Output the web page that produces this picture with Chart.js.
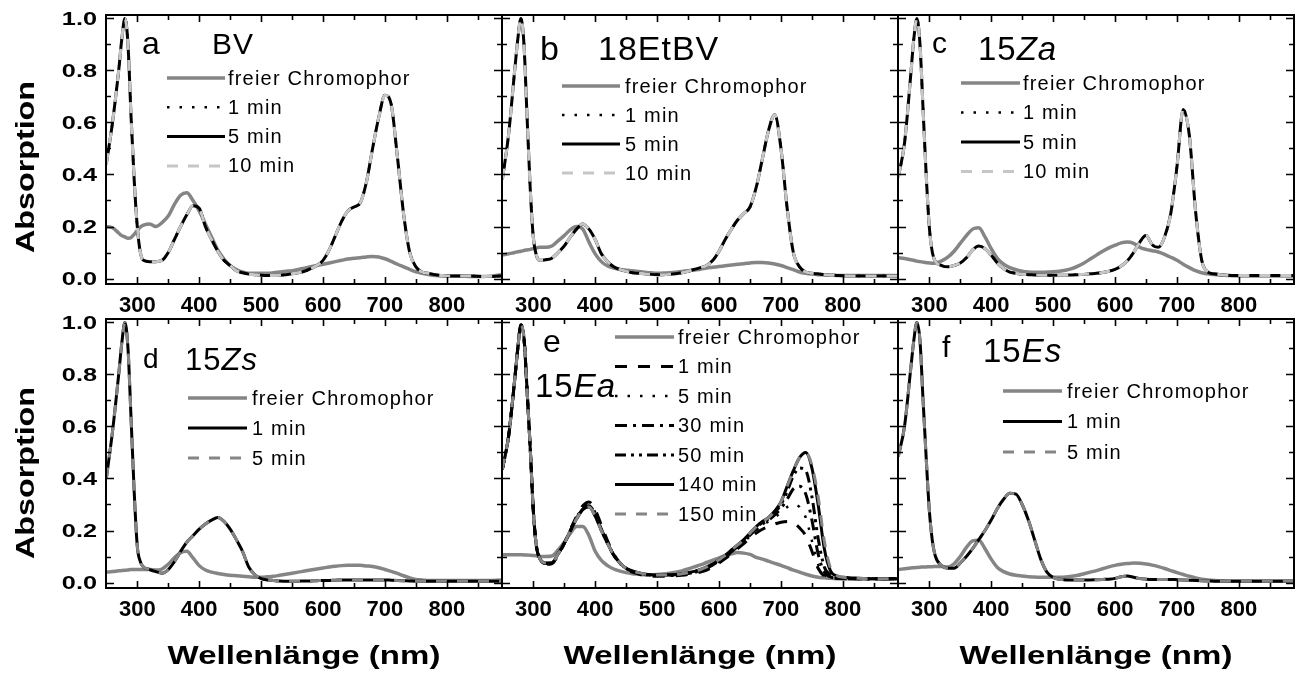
<!DOCTYPE html>
<html lang="de">
<head>
  <meta charset="UTF-8">
  <title>Absorptionsspektren</title>
  <script src="https://cdn.jsdelivr.net/npm/chart.js"></script>
  <style>
    body { margin: 0; background: #fff; width: 1297px; height: 679px; overflow: hidden; position: relative; }
    canvas { position: absolute; left: 0; top: 0; }
  </style>
</head>
<body>
  <canvas id="pa" width="1297" height="679"></canvas>
  <canvas id="pb" width="1297" height="679"></canvas>
  <canvas id="pc" width="1297" height="679"></canvas>
  <canvas id="pd" width="1297" height="679"></canvas>
  <canvas id="pe" width="1297" height="679"></canvas>
  <canvas id="pf" width="1297" height="679"></canvas>

  <script>
    // Wellenlaenge (nm), gemeinsames Raster fuer alle Spektren
    const wl = [250, 260, 270, 275, 280, 285, 290, 295, 300, 305, 310,
      320, 330, 340, 350, 360, 370, 380, 390, 400, 410,
      420, 430, 440, 450, 460, 470, 480, 490, 500, 510,
      520, 530, 540, 550, 560, 570, 580, 590, 600, 610,
      620, 630, 640, 650, 660, 670, 680, 690, 700, 710,
      720, 730, 740, 750, 760, 770, 780, 790, 800,
      820, 840, 860, 890];

    const xMinor = [350, 450, 550, 650, 750, 850];
    const yMinor = [0.1, 0.3, 0.5, 0.7, 0.9];

    const labelsABC = ['freier Chromophor', '1 min', '5 min', '10 min'];
    const labelsDF = ['freier Chromophor', '1 min', '5 min'];
    const labelsE = ['freier Chromophor', '1 min', '5 min', '30 min', '50 min', '140 min', '150 min'];

    // a: BV
    const aFree = [0.200, 0.195, 0.175, 0.165, 0.160, 0.155, 0.158, 0.170, 0.185, 0.198, 0.205,
      0.210, 0.200, 0.215, 0.240, 0.285, 0.320, 0.330, 0.300, 0.260, 0.210,
      0.160, 0.110, 0.075, 0.050, 0.035, 0.025, 0.020, 0.020, 0.020, 0.020,
      0.022, 0.025, 0.028, 0.030, 0.035, 0.040, 0.045, 0.050, 0.055, 0.060,
      0.065, 0.070, 0.075, 0.078, 0.080, 0.083, 0.085, 0.083, 0.076, 0.066,
      0.055, 0.045, 0.035, 0.026, 0.020, 0.015, 0.012, 0.010, 0.010,
      0.010, 0.008, 0.008, 0.015];
    const aBound = [0.44, 0.60, 0.80, 0.92, 1.00, 0.90, 0.62, 0.38, 0.20, 0.10, 0.07,
      0.065, 0.065, 0.07, 0.10, 0.15, 0.20, 0.245, 0.28, 0.27, 0.20,
      0.15, 0.105, 0.07, 0.05, 0.03, 0.022, 0.017, 0.015, 0.013, 0.012,
      0.012, 0.013, 0.015, 0.018, 0.022, 0.028, 0.038, 0.05, 0.07, 0.11,
      0.165, 0.22, 0.26, 0.275, 0.29, 0.37, 0.50, 0.62, 0.705, 0.67,
      0.47, 0.25, 0.10, 0.045, 0.025, 0.02, 0.015, 0.012, 0.01,
      0.01, 0.01, 0.008, 0.01];

    // b: 18EtBV
    const bFree = [0.090, 0.095, 0.100, 0.103, 0.105, 0.108, 0.110, 0.112, 0.115, 0.118, 0.120,
      0.120, 0.125, 0.145, 0.165, 0.188, 0.200, 0.190, 0.140, 0.095, 0.065,
      0.048, 0.040, 0.035, 0.032, 0.030, 0.027, 0.024, 0.022, 0.020, 0.021,
      0.022, 0.024, 0.027, 0.030, 0.033, 0.036, 0.040, 0.043, 0.046, 0.049,
      0.052, 0.055, 0.057, 0.060, 0.062, 0.062, 0.060, 0.056, 0.050, 0.042,
      0.034, 0.025, 0.020, 0.017, 0.015, 0.014, 0.013, 0.012, 0.012,
      0.012, 0.012, 0.012, 0.012];
    const bBound = [0.38, 0.55, 0.80, 0.92, 1.00, 0.90, 0.62, 0.35, 0.16, 0.09, 0.07,
      0.072, 0.078, 0.10, 0.125, 0.16, 0.19, 0.21, 0.19, 0.15, 0.095,
      0.065, 0.045, 0.035, 0.028, 0.022, 0.02, 0.018, 0.016, 0.015, 0.015,
      0.016, 0.018, 0.022, 0.028, 0.035, 0.042, 0.05, 0.07, 0.105, 0.15,
      0.19, 0.225, 0.25, 0.275, 0.35, 0.46, 0.57, 0.63, 0.50, 0.27,
      0.10, 0.045, 0.025, 0.02, 0.018, 0.015, 0.013, 0.012, 0.011,
      0.01, 0.01, 0.01, 0.01];

    // c: 15Za
    const cFree = [0.080, 0.077, 0.072, 0.070, 0.067, 0.065, 0.063, 0.061, 0.060, 0.059, 0.060,
      0.068, 0.082, 0.105, 0.135, 0.165, 0.190, 0.195, 0.160, 0.115, 0.078,
      0.055, 0.042, 0.034, 0.028, 0.025, 0.024, 0.024, 0.025, 0.026, 0.028,
      0.032, 0.038, 0.048, 0.060, 0.075, 0.090, 0.105, 0.118, 0.128, 0.137,
      0.140, 0.135, 0.120, 0.112, 0.107, 0.102, 0.093, 0.082, 0.070, 0.055,
      0.042, 0.030, 0.022, 0.018, 0.015, 0.013, 0.012, 0.011, 0.010,
      0.010, 0.010, 0.010, 0.010];
    const cBound = [0.39, 0.52, 0.78, 0.92, 1.00, 0.90, 0.65, 0.40, 0.20, 0.10, 0.065,
      0.05, 0.045, 0.05, 0.06, 0.08, 0.11, 0.125, 0.115, 0.09, 0.06,
      0.038, 0.025, 0.02, 0.016, 0.015, 0.014, 0.013, 0.013, 0.013, 0.013,
      0.013, 0.014, 0.015, 0.016, 0.018, 0.02, 0.023, 0.028, 0.035, 0.048,
      0.068, 0.10, 0.14, 0.165, 0.13, 0.12, 0.16, 0.25, 0.43, 0.65,
      0.55, 0.26, 0.07, 0.025, 0.018, 0.015, 0.013, 0.012, 0.012,
      0.012, 0.012, 0.012, 0.012];

    // d: 15Zs
    const dFree = [0.040, 0.042, 0.045, 0.046, 0.047, 0.048, 0.050, 0.050, 0.050, 0.050, 0.050,
      0.050, 0.048, 0.052, 0.070, 0.095, 0.115, 0.120, 0.095, 0.065, 0.048,
      0.040, 0.035, 0.031, 0.028, 0.026, 0.024, 0.022, 0.020, 0.020, 0.022,
      0.024, 0.028, 0.032, 0.036, 0.040, 0.044, 0.048, 0.052, 0.056, 0.060,
      0.063, 0.065, 0.066, 0.066, 0.066, 0.064, 0.062, 0.057, 0.050, 0.043,
      0.035, 0.026, 0.018, 0.012, 0.010, 0.008, 0.008, 0.008, 0.008,
      0.008, 0.008, 0.008, 0.010];
    const dBound = [0.40, 0.58, 0.80, 0.92, 1.00, 0.90, 0.63, 0.35, 0.14, 0.08, 0.06,
      0.05, 0.042, 0.036, 0.05, 0.08, 0.12, 0.155, 0.18, 0.205, 0.225,
      0.24, 0.25, 0.235, 0.205, 0.165, 0.12, 0.06, 0.03, 0.015, 0.01,
      0.008, 0.006, 0.005, 0.005, 0.005, 0.006, 0.006, 0.007, 0.008, 0.008,
      0.009, 0.01, 0.01, 0.01, 0.01, 0.01, 0.01, 0.01, 0.01, 0.009,
      0.008, 0.007, 0.006, 0.005, 0.005, 0.005, 0.005, 0.005, 0.005,
      0.005, 0.005, 0.005, 0.005];

    // e: 15Ea
    const eFree = [0.107, 0.107, 0.107, 0.107, 0.107, 0.106, 0.106, 0.105, 0.104, 0.103, 0.100,
      0.100, 0.102, 0.125, 0.155, 0.190, 0.215, 0.215, 0.180, 0.120, 0.085,
      0.065, 0.052, 0.044, 0.038, 0.034, 0.032, 0.030, 0.030, 0.031, 0.033,
      0.036, 0.040, 0.045, 0.052, 0.060, 0.068, 0.077, 0.086, 0.095, 0.103,
      0.110, 0.115, 0.113, 0.108, 0.097, 0.090, 0.082, 0.074, 0.066, 0.057,
      0.048, 0.040, 0.032, 0.025, 0.020, 0.018, 0.016, 0.015, 0.015,
      0.015, 0.015, 0.015, 0.015];
    const e1 = [0.435, 0.56, 0.78, 0.90, 0.99, 0.94, 0.74, 0.52, 0.28, 0.14, 0.095,
      0.07, 0.072, 0.105, 0.15, 0.205, 0.255, 0.295, 0.31, 0.28, 0.22,
      0.16, 0.11, 0.075, 0.052, 0.04, 0.033, 0.028, 0.025, 0.024, 0.024,
      0.025, 0.026, 0.028, 0.031, 0.035, 0.04, 0.048, 0.06, 0.075, 0.092,
      0.11, 0.13, 0.15, 0.17, 0.19, 0.205, 0.215, 0.225, 0.232, 0.235,
      0.23, 0.21, 0.18, 0.12, 0.055, 0.025, 0.018, 0.016, 0.015,
      0.015, 0.015, 0.015, 0.015];
    const e5 = [0.435, 0.56, 0.78, 0.90, 0.99, 0.94, 0.74, 0.52, 0.28, 0.14, 0.095,
      0.072, 0.074, 0.108, 0.15, 0.203, 0.25, 0.29, 0.30, 0.27, 0.21,
      0.155, 0.108, 0.075, 0.053, 0.042, 0.035, 0.03, 0.027, 0.026, 0.026,
      0.027, 0.028, 0.03, 0.033, 0.038, 0.044, 0.053, 0.065, 0.08, 0.097,
      0.115, 0.135, 0.155, 0.178, 0.20, 0.22, 0.235, 0.25, 0.27, 0.29,
      0.30, 0.29, 0.25, 0.16, 0.07, 0.03, 0.02, 0.016, 0.015,
      0.015, 0.015, 0.015, 0.015];
    const e30 = [0.435, 0.56, 0.78, 0.90, 0.99, 0.94, 0.74, 0.52, 0.28, 0.14, 0.095,
      0.073, 0.075, 0.11, 0.15, 0.20, 0.248, 0.285, 0.295, 0.262, 0.205,
      0.152, 0.106, 0.075, 0.054, 0.043, 0.036, 0.031, 0.028, 0.027, 0.027,
      0.028, 0.029, 0.032, 0.035, 0.04, 0.047, 0.056, 0.068, 0.083, 0.10,
      0.118, 0.138, 0.158, 0.182, 0.205, 0.225, 0.24, 0.26, 0.285, 0.32,
      0.36, 0.37, 0.34, 0.24, 0.11, 0.04, 0.022, 0.017, 0.015,
      0.015, 0.015, 0.015, 0.015];
    const e50 = [0.435, 0.56, 0.78, 0.90, 0.99, 0.94, 0.74, 0.52, 0.28, 0.14, 0.095,
      0.074, 0.075, 0.11, 0.15, 0.20, 0.246, 0.282, 0.292, 0.258, 0.202,
      0.151, 0.105, 0.075, 0.055, 0.044, 0.037, 0.032, 0.029, 0.028, 0.028,
      0.029, 0.03, 0.033, 0.037, 0.042, 0.049, 0.058, 0.07, 0.086, 0.103,
      0.122, 0.142, 0.162, 0.186, 0.21, 0.23, 0.245, 0.27, 0.30, 0.35,
      0.41, 0.44, 0.43, 0.33, 0.17, 0.06, 0.03, 0.02, 0.017,
      0.015, 0.015, 0.015, 0.015];
    const e140 = [0.435, 0.56, 0.78, 0.90, 0.99, 0.94, 0.74, 0.52, 0.28, 0.14, 0.095,
      0.075, 0.076, 0.11, 0.15, 0.20, 0.245, 0.28, 0.29, 0.255, 0.20,
      0.15, 0.105, 0.075, 0.055, 0.045, 0.038, 0.033, 0.03, 0.029, 0.029,
      0.03, 0.031, 0.034, 0.038, 0.043, 0.05, 0.06, 0.072, 0.088, 0.105,
      0.125, 0.145, 0.165, 0.19, 0.215, 0.235, 0.25, 0.275, 0.31, 0.37,
      0.43, 0.48, 0.50, 0.44, 0.30, 0.13, 0.045, 0.025, 0.02,
      0.017, 0.015, 0.015, 0.015];
    const e150 = [0.435, 0.56, 0.78, 0.90, 0.99, 0.94, 0.74, 0.52, 0.28, 0.14, 0.095,
      0.075, 0.076, 0.11, 0.15, 0.20, 0.245, 0.28, 0.29, 0.255, 0.20,
      0.15, 0.105, 0.075, 0.055, 0.045, 0.038, 0.033, 0.03, 0.029, 0.029,
      0.03, 0.031, 0.034, 0.038, 0.043, 0.05, 0.06, 0.072, 0.088, 0.105,
      0.125, 0.145, 0.165, 0.19, 0.215, 0.235, 0.25, 0.275, 0.31, 0.37,
      0.43, 0.48, 0.50, 0.45, 0.33, 0.16, 0.055, 0.027, 0.02,
      0.017, 0.015, 0.015, 0.015];

    // f: 15Es
    const fFree = [0.050, 0.053, 0.056, 0.057, 0.058, 0.059, 0.060, 0.060, 0.061, 0.061, 0.062,
      0.062, 0.060, 0.072, 0.100, 0.135, 0.160, 0.163, 0.130, 0.090, 0.058,
      0.042, 0.033, 0.028, 0.025, 0.022, 0.021, 0.020, 0.020, 0.020, 0.020,
      0.021, 0.024, 0.028, 0.034, 0.040, 0.046, 0.053, 0.060, 0.066, 0.070,
      0.073, 0.075, 0.074, 0.071, 0.067, 0.061, 0.054, 0.046, 0.038, 0.031,
      0.024, 0.018, 0.013, 0.010, 0.008, 0.007, 0.006, 0.006, 0.006,
      0.006, 0.006, 0.006, 0.006];
    const fBound = [0.485, 0.60, 0.82, 0.93, 1.00, 0.93, 0.70, 0.48, 0.28, 0.16, 0.10,
      0.065, 0.055, 0.055, 0.075, 0.10, 0.13, 0.165, 0.20, 0.24, 0.285,
      0.32, 0.343, 0.34, 0.30, 0.24, 0.165, 0.09, 0.04, 0.02, 0.013,
      0.01, 0.01, 0.01, 0.01, 0.01, 0.011, 0.012, 0.013, 0.016, 0.022,
      0.025, 0.02, 0.015, 0.013, 0.012, 0.012, 0.012, 0.012, 0.011, 0.01,
      0.009, 0.008, 0.007, 0.006, 0.005, 0.005, 0.005, 0.005, 0.005,
      0.005, 0.005, 0.005, 0.005];

    const FONT = '"Liberation Sans", Arial, sans-serif';
    const GRAY = '#858585', LIGHT = '#c6c6c6', BLACK = '#000';
    const STY = {
      free: { color: GRAY, width: 3.5, dash: [] },
      solid: { color: BLACK, width: 3, dash: [] },
      dot: { color: BLACK, width: 2.5, dash: [2.5, 10] },
      dashL: { color: LIGHT, width: 3, dash: [11, 10] },
      dashG: { color: GRAY, width: 3, dash: [11, 10] },
      dashK: { color: BLACK, width: 3, dash: [12, 11] },
      dashDot: { color: BLACK, width: 3, dash: [12, 6, 3, 6] },
      dashDotDot: { color: BLACK, width: 3, dash: [11, 5, 3, 5, 3, 5] }
    };

    const colLeft = [106, 502, 898], rowTop = [15, 319];
    const W = 396, H = 269;

    const panels = [
      { id: 'pa', col: 0, row: 0, labels: labelsABC,
        series: [[aFree, 'free'], [aBound, 'dot'], [aBound, 'solid'], [aBound, 'dashL']],
        legend: { x1: 167, x2: 225, tx: 228, y: 78, dy: 29.3 },
        letter: { t: 'a', x: 142, y: 54, size: 32 }, name: { parts: [['BV', false]], x: 212, y: 54, size: 30 } },
      { id: 'pb', col: 1, row: 0, labels: labelsABC,
        series: [[bFree, 'free'], [bBound, 'dot'], [bBound, 'solid'], [bBound, 'dashL']],
        legend: { x1: 562, x2: 620, tx: 625, y: 86, dy: 29 },
        letter: { t: 'b', x: 540, y: 60, size: 34 }, name: { parts: [['18EtBV', false]], x: 598, y: 60, size: 34 } },
      { id: 'pc', col: 2, row: 0, labels: labelsABC,
        series: [[cFree, 'free'], [cBound, 'dot'], [cBound, 'solid'], [cBound, 'dashL']],
        legend: { x1: 961, x2: 1020, tx: 1023, y: 83, dy: 29.5 },
        letter: { t: 'c', x: 932, y: 53, size: 30 }, name: { parts: [['15', false], ['Za', true]], x: 978, y: 60, size: 33 } },
      { id: 'pd', col: 0, row: 1, labels: labelsDF,
        series: [[dFree, 'free'], [dBound, 'solid'], [dBound, 'dashG']],
        legend: { x1: 188, x2: 247, tx: 252, y: 398, dy: 30 },
        letter: { t: 'd', x: 143, y: 368, size: 28 }, name: { parts: [['15', false], ['Zs', true]], x: 185, y: 370, size: 31 } },
      { id: 'pe', col: 1, row: 1, labels: labelsE,
        series: [[eFree, 'free'], [e1, 'dashK'], [e5, 'dot'], [e30, 'dashDot'], [e50, 'dashDotDot'], [e140, 'solid'], [e150, 'dashG']],
        legend: { x1: 615, x2: 674, tx: 678, y: 337, dy: 29.5 },
        letter: { t: 'e', x: 543, y: 352, size: 32 }, name: { parts: [['15', false], ['Ea', true]], x: 535, y: 397, size: 33 } },
      { id: 'pf', col: 2, row: 1, labels: labelsDF,
        series: [[fFree, 'free'], [fBound, 'solid'], [fBound, 'dashG']],
        legend: { x1: 1003, x2: 1062, tx: 1067, y: 391, dy: 30.5 },
        letter: { t: 'f', x: 942, y: 357, size: 30 }, name: { parts: [['15', false], ['Es', true]], x: 983, y: 362, size: 33 } }
    ];

    function deco(p) {
      return {
        id: 'deco',
        afterDatasetsDraw(chart) {
          const ctx = chart.ctx, a = chart.chartArea, xs = chart.scales.x, ys = chart.scales.y;
          ctx.save();
          // Rahmen und Ticks nach innen
          ctx.strokeStyle = '#000';
          ctx.setLineDash([]);
          ctx.lineWidth = 1.6;
          ctx.beginPath();
          const vt = (v, len) => {
            const px = Math.round(xs.getPixelForValue(v)) + 0.5;
            ctx.moveTo(px, a.bottom); ctx.lineTo(px, a.bottom - len);
            ctx.moveTo(px, a.top); ctx.lineTo(px, a.top + len);
          };
          const ht = (v, len) => {
            const py = Math.round(ys.getPixelForValue(v)) + 0.5;
            ctx.moveTo(a.left, py); ctx.lineTo(a.left + len, py);
            ctx.moveTo(a.right, py); ctx.lineTo(a.right - len, py);
          };
          xs.ticks.forEach(t => vt(t.value, 7));
          xMinor.forEach(v => vt(v, 5));
          ys.ticks.forEach(t => ht(t.value, 8));
          yMinor.forEach(v => ht(v, 5));
          ctx.stroke();
          ctx.lineWidth = 2;
          ctx.strokeRect(a.left, a.top, a.right - a.left, a.bottom - a.top);

          ctx.fillStyle = '#000';
          // y-Beschriftung (nur linke Spalte)
          if (p.col === 0) {
            ctx.font = 'bold 19px ' + FONT;
            ctx.textBaseline = 'middle';
            ctx.textAlign = 'right';
            ys.ticks.forEach(t => {
              ctx.save();
              ctx.translate(97, ys.getPixelForValue(t.value) + 1);
              ctx.scale(1.33, 1);
              ctx.fillText(t.label, 0, 0);
              ctx.restore();
            });
            ctx.save();
            ctx.font = 'bold 25px ' + FONT;
            ctx.textAlign = 'center';
            ctx.translate(27, p.row === 0 ? 167 : 473);
            ctx.rotate(-Math.PI / 2);
            ctx.scale(1.29, 1);
            ctx.fillText('Absorption', 0, 0);
            ctx.restore();
          }
          // x-Titel (untere Reihe)
          if (p.row === 1) {
            ctx.save();
            ctx.font = 'bold 26px ' + FONT;
            ctx.textAlign = 'center';
            ctx.textBaseline = 'middle';
            ctx.translate((a.left + a.right) / 2, 657);
            ctx.scale(1.27, 1);
            ctx.fillText('Wellenlänge (nm)', 0, 0);
            ctx.restore();
          }
          // Panelbuchstabe und Name
          ctx.textAlign = 'left';
          ctx.textBaseline = 'alphabetic';
          ctx.font = p.letter.size + 'px ' + FONT;
          ctx.fillText(p.letter.t, p.letter.x, p.letter.y);
          let nx = p.name.x;
          ctx.letterSpacing = '1px';
          p.name.parts.forEach(([txt, it]) => {
            ctx.font = (it ? 'italic ' : '') + p.name.size + 'px ' + FONT;
            ctx.fillText(txt, nx, p.name.y);
            nx += ctx.measureText(txt).width;
          });
          // Legende
          ctx.font = '20px ' + FONT;
          ctx.letterSpacing = '1.2px';
          ctx.textBaseline = 'middle';
          chart.data.datasets.forEach((ds, i) => {
            const y = p.legend.y + i * p.legend.dy;
            ctx.save();
            ctx.strokeStyle = ds.borderColor;
            ctx.lineWidth = ds.borderWidth;
            ctx.setLineDash(ds.borderDash);
            ctx.beginPath();
            ctx.moveTo(p.legend.x1, y);
            ctx.lineTo(p.legend.x2, y);
            ctx.stroke();
            ctx.restore();
            ctx.fillText(ds.label, p.legend.tx, y + 1);
          });
          ctx.restore();
        }
      };
    }

    panels.forEach(p => {
      const left = colLeft[p.col], top = rowTop[p.row];
      const bottom = top + H, right = left + W;
      const n = p.series.length;
      new Chart(document.getElementById(p.id), {
        type: 'line',
        data: {
          datasets: p.series.map(([vals, sty], i) => ({
            label: p.labels[i],
            data: wl.map((x, k) => ({ x: x, y: vals[k] })),
            borderColor: STY[sty].color,
            borderWidth: STY[sty].width,
            borderDash: STY[sty].dash,
            pointRadius: 0,
            fill: false,
            cubicInterpolationMode: 'monotone',
            order: n - i
          }))
        },
        options: {
          responsive: false,
          animation: false,
          events: [],
          layout: { padding: { left: left - 10, top: top, right: 1297 - right, bottom: 679 - bottom - 40 } },
          plugins: { legend: { display: false }, tooltip: { enabled: false } },
          scales: {
            x: {
              type: 'linear', min: 249.5, max: 889,
              afterFit: s => { s.height = 40; },
              grid: { display: false, drawTicks: false },
              border: { display: false },
              ticks: { stepSize: 100, includeBounds: false, autoSkip: false, maxRotation: 0,
                padding: 9, color: '#000', font: { family: FONT, size: 22, weight: 'bold' } }
            },
            y: {
              type: 'linear', min: -0.021, max: 1.013,
              afterFit: s => { s.width = 10; },
              grid: { display: false, drawTicks: false },
              border: { display: false },
              ticks: { stepSize: 0.2, includeBounds: false, display: false, callback: v => v.toFixed(1) }
            }
          }
        },
        plugins: [deco(p)]
      });
    });
  </script>
</body>
</html>
